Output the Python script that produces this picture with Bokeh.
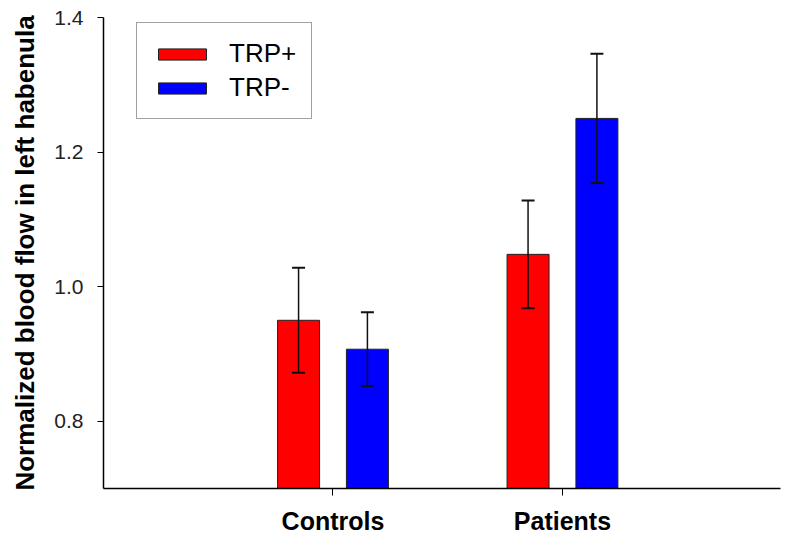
from bokeh.plotting import figure
from bokeh.models import (ColumnDataSource, Range1d, FixedTicker, Whisker, TeeHead,
                          Legend, LegendItem, NumeralTickFormatter)
from bokeh.transform import dodge
from bokeh.embed import file_html
from bokeh.resources import INLINE

# ---- data ----
categories = ["Controls", "Patients"]
cat_pos = [1, 2]
trp_plus = [0.950, 1.048]
trp_plus_err = [0.078, 0.080]
trp_minus = [0.907, 1.250]
trp_minus_err = [0.055, 0.096]
y_ticks = [0.8, 1.0, 1.2, 1.4]
series_labels = ["TRP+", "TRP-"]
series_colors = ["#FF0000", "#0000FF"]

FONT = "Liberation Sans"

src = ColumnDataSource(dict(
    x=cat_pos,
    plus=trp_plus,
    plus_lo=[v - e for v, e in zip(trp_plus, trp_plus_err)],
    plus_hi=[v + e for v, e in zip(trp_plus, trp_plus_err)],
    minus=trp_minus,
    minus_lo=[v - e for v, e in zip(trp_minus, trp_minus_err)],
    minus_hi=[v + e for v, e in zip(trp_minus, trp_minus_err)],
))

p = figure(width=784, height=537, output_backend="svg", toolbar_location=None,
           x_range=Range1d(0, 2.95), y_range=Range1d(0.7, 1.4),
           min_border_left=103, min_border_right=4, min_border_top=17, min_border_bottom=38)
p.outline_line_color = None
p.xgrid.visible = False
p.ygrid.visible = False
p.background_fill_color = "white"
p.border_fill_color = "white"

off = 0.15
bw = 0.183
r1 = p.vbar(x=dodge("x", -off, range=p.x_range), top="plus", bottom=0, width=bw, source=src,
            fill_color=series_colors[0], line_color="#222222", line_width=1)
r2 = p.vbar(x=dodge("x", off, range=p.x_range), top="minus", bottom=0, width=bw, source=src,
            fill_color=series_colors[1], line_color="#222222", line_width=1)

for key, d in (("plus", -off), ("minus", off)):
    w = Whisker(base=dodge("x", d, range=p.x_range), upper=key + "_hi", lower=key + "_lo", source=src,
                line_color="#111111", line_width=1.5, level="overlay",
                upper_head=TeeHead(size=13, line_color="#111111", line_width=2),
                lower_head=TeeHead(size=13, line_color="#111111", line_width=2))
    p.add_layout(w)

# axes
p.xaxis.ticker = FixedTicker(ticks=cat_pos)
p.xaxis.major_label_overrides = {c: l for c, l in zip(cat_pos, categories)}
p.xaxis.minor_tick_line_color = None
p.xaxis.major_tick_in = 0
p.xaxis.major_tick_out = 7
p.xaxis.major_label_text_font = FONT
p.xaxis.major_label_text_font_style = "bold"
p.xaxis.major_label_text_font_size = "25px"
p.xaxis.major_label_text_color = "black"
p.xaxis.major_label_standoff = 11
p.xaxis.axis_line_width = 1.5
p.xaxis.axis_line_color = "black"
p.xaxis.major_tick_line_color = "black"

p.yaxis.ticker = FixedTicker(ticks=y_ticks)
p.yaxis.formatter = NumeralTickFormatter(format="0.0")
p.yaxis.minor_tick_line_color = None
p.yaxis.major_tick_in = 0
p.yaxis.major_tick_out = 6
p.yaxis.major_label_text_font = FONT
p.yaxis.major_label_text_font_size = "21px"
p.yaxis.major_label_text_color = "#222222"
p.yaxis.major_label_standoff = 14
p.yaxis.axis_line_width = 1.5
p.yaxis.axis_line_color = "black"
p.yaxis.major_tick_line_color = "black"
p.yaxis.axis_label = "Normalized blood flow in left habenula"
p.yaxis.axis_label_text_font = FONT
p.yaxis.axis_label_text_font_style = "bold"
p.yaxis.axis_label_text_font_size = "26px"
p.yaxis.axis_label_text_color = "black"
p.yaxis.axis_label_standoff = 11

legend = Legend(items=[LegendItem(label=series_labels[0], renderers=[r1]),
                       LegendItem(label=series_labels[1], renderers=[r2])],
                location=(33, 369), orientation="vertical",
                glyph_width=60, glyph_height=14, label_standoff=17,
                label_text_font=FONT, label_text_font_size="26px", label_text_color="black",
                padding=15, spacing=3, margin=0,
                border_line_color="#444444", border_line_width=1,
                background_fill_color="white", background_fill_alpha=1)
p.add_layout(legend)

open("out.html", "w").write(file_html(p, INLINE))
